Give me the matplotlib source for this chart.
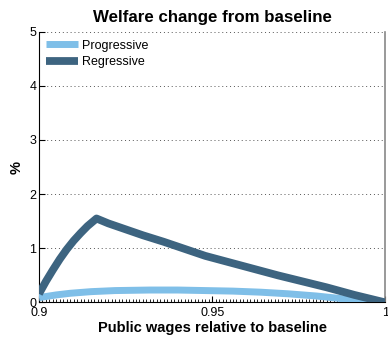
import numpy as np
import matplotlib
matplotlib.use("Agg")
import matplotlib.pyplot as plt
from matplotlib.ticker import MultipleLocator

plt.rcParams['font.family'] = ['Liberation Sans', 'DejaVu Sans']

# Welfare change (%) against public wages relative to baseline
wage_reg = [0.900, 0.902, 0.904, 0.906, 0.908, 0.910, 0.912, 0.914, 0.9166,
            0.920, 0.925, 0.930, 0.936, 0.942, 0.948, 0.955, 0.962,
            0.969, 0.976, 0.983, 0.991, 1.000]
welfare_reg = [0.16, 0.39, 0.60, 0.80, 0.98, 1.14, 1.28, 1.41, 1.55,
               1.46, 1.35, 1.24, 1.12, 0.99, 0.86, 0.74, 0.62,
               0.50, 0.39, 0.28, 0.14, 0.00]

wage_prog = [0.900, 0.905, 0.909, 0.915, 0.922, 0.932, 0.940, 0.948,
             0.956, 0.964, 0.972, 0.980, 0.986, 0.991, 0.995, 1.000]
welfare_prog = [0.09, 0.14, 0.17, 0.20, 0.22, 0.23, 0.23, 0.22,
                0.21, 0.19, 0.16, 0.12, 0.08, 0.04, 0.01, 0.00]

series_names = ["Progressive", "Regressive"]
series_colors = ["#7fbfe8", "#3d6480"]

fig = plt.figure(figsize=(3.88, 3.37), dpi=100)
ax = fig.add_axes([0.1005, 0.1024, 0.893, 0.804])

ax.plot(wage_prog, welfare_prog, color=series_colors[0], lw=5.0,
        solid_capstyle='butt', label=series_names[0], zorder=3)
ax.plot(wage_reg, welfare_reg, color=series_colors[1], lw=5.6,
        solid_capstyle='butt', solid_joinstyle='round',
        label=series_names[1], zorder=4)

ax.set_xlim(0.9, 1.0)
ax.set_ylim(0, 5)
ax.set_xticks([0.9, 0.95, 1.0])
ax.set_xticklabels(["0.9", "0.95", "1"])
ax.set_yticks([0, 1, 2, 3, 4, 5])
ax.xaxis.set_minor_locator(MultipleLocator(0.001))

ax.tick_params(axis='both', which='major', direction='in', length=4,
               width=0.8, labelsize=9, pad=2, colors='black')
ax.tick_params(axis='x', which='major', pad=3.5)
ax.tick_params(axis='x', which='minor', direction='in', length=2, width=0.6)
ax.tick_params(axis='y', which='major', right=False)

ax.yaxis.grid(True, linestyle=(0, (1, 3)), color='#555555', lw=0.7)
ax.set_axisbelow(True)

ax.spines['top'].set_visible(False)
ax.spines['right'].set_color('#888888')
ax.spines['right'].set_linewidth(1.2)
ax.spines['left'].set_linewidth(0.8)
ax.spines['bottom'].set_linewidth(0.8)

ax.set_title("Welfare change from baseline", fontsize=12.2, fontweight='bold', pad=7)
ax.set_xlabel("Public wages relative to baseline", fontsize=10.5,
              fontweight='bold', labelpad=1)
ax.set_ylabel("%", fontsize=10.5, fontweight='bold', labelpad=4)

leg = ax.legend(loc='upper left', frameon=False, fontsize=9,
                handlelength=2.55, handletextpad=0.35, labelspacing=0.35,
                borderaxespad=0.15, bbox_to_anchor=(0.0, 0.995))

fig.savefig("out.png", dpi=100)
